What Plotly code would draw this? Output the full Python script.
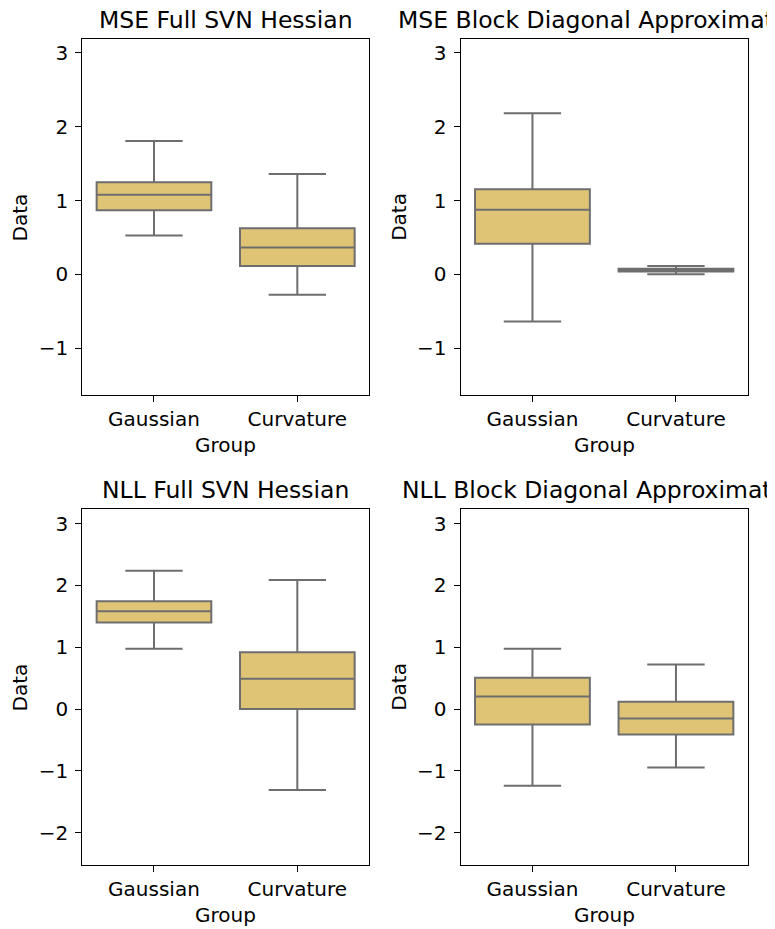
import plotly.graph_objects as go

groups = ["Gaussian", "Curvature"]

titles = ["MSE Full SVN Hessian", "MSE Block Diagonal Approximation",
          "NLL Full SVN Hessian", "NLL Block Diagonal Approximation"]

# box statistics per panel: [Gaussian, Curvature]
mse_full_lower = [0.527, -0.275]
mse_full_q1 = [0.869, 0.113]
mse_full_median = [1.077, 0.365]
mse_full_q3 = [1.248, 0.626]
mse_full_upper = [1.806, 1.360]

mse_block_lower = [-0.635, 0.004]
mse_block_q1 = [0.414, 0.040]
mse_block_median = [0.874, 0.060]
mse_block_q3 = [1.153, 0.078]
mse_block_upper = [2.180, 0.116]

nll_full_lower = [0.975, -1.309]
nll_full_q1 = [1.400, 0.000]
nll_full_median = [1.583, 0.490]
nll_full_q3 = [1.745, 0.921]
nll_full_upper = [2.235, 2.089]

nll_block_lower = [-1.239, -0.942]
nll_block_q1 = [-0.248, -0.409]
nll_block_median = [0.205, -0.151]
nll_block_q3 = [0.506, 0.118]
nll_block_upper = [0.975, 0.722]

panels = [
    (mse_full_lower, mse_full_q1, mse_full_median, mse_full_q3, mse_full_upper),
    (mse_block_lower, mse_block_q1, mse_block_median, mse_block_q3, mse_block_upper),
    (nll_full_lower, nll_full_q1, nll_full_median, nll_full_q3, nll_full_upper),
    (nll_block_lower, nll_block_q1, nll_block_median, nll_block_q3, nll_block_upper),
]

yranges = [[-1.63, 3.18], [-1.63, 3.18], [-2.52, 3.23], [-2.52, 3.23]]

OFF = 8  # default page body margin
W, H = 775 - OFF, 929 - OFF
FILL = "#E0C476"
EDGE = "#6E6E6E"
FONT = "DejaVu Sans"

# axes pixel boxes on the page (left, right, top, bottom)
boxes_px = [(82.3, 369.0, 39.3, 395.0), (460.7, 747.7, 39.3, 395.0),
            (82.3, 369.0, 509.3, 865.0), (460.7, 747.7, 509.3, 865.0)]

fig = go.Figure()
layout = dict(
    width=W, height=H, margin=dict(l=0, r=0, t=0, b=0),
    plot_bgcolor="white", paper_bgcolor="white", showlegend=False,
    font=dict(family=FONT, size=20, color="black"),
)
annotations = []
for i, (lo, q1, med, q3, hi) in enumerate(panels):
    n = i + 1
    xa = "x" if n == 1 else f"x{n}"
    ya = "y" if n == 1 else f"y{n}"
    fig.add_trace(go.Box(
        x=groups, lowerfence=lo, q1=q1, median=med, q3=q3, upperfence=hi,
        xaxis=xa, yaxis=ya, width=0.8, whiskerwidth=0.5,
        fillcolor=FILL, line=dict(color=EDGE, width=2),
        boxpoints=False, hoverinfo="skip",
    ))
    l, r, t, b = [v - OFF for v in boxes_px[i]]
    xd = [l / W, r / W]
    yd = [1 - b / H, 1 - t / H]
    axcommon = dict(showline=True, linecolor="black", linewidth=1.2, mirror=True,
                    ticks="outside", ticklen=6, tickwidth=1.2, tickcolor="black",
                    showgrid=False, zeroline=False,
                    tickfont=dict(family=FONT, size=20, color="black"))
    layout["xaxis" if n == 1 else f"xaxis{n}"] = dict(
        domain=xd, anchor=ya, type="category", range=[-0.5, 1.5], **axcommon)
    layout["yaxis" if n == 1 else f"yaxis{n}"] = dict(
        domain=yd, anchor=xa, range=yranges[i], dtick=1, tick0=0,
        ticklabelstandoff=3, **axcommon)
    cx = (l + r) / 2 / W
    annotations.append(dict(text=titles[i], xref="paper", yref="paper",
                            x=cx, y=1 - t / H, yshift=3, xanchor="center", yanchor="bottom",
                            showarrow=False, font=dict(family=FONT, size=23.5, color="black")))
    annotations.append(dict(text="Group", xref="paper", yref="paper",
                            x=cx, y=1 - b / H, yshift=-36, xanchor="center", yanchor="top",
                            showarrow=False, font=dict(family=FONT, size=20, color="black")))
    annotations.append(dict(text="Data", xref="paper", yref="paper",
                            x=(l - 62) / W, y=1 - (t + b) / 2 / H, textangle=-90,
                            xanchor="center", yanchor="middle",
                            showarrow=False, font=dict(family=FONT, size=20, color="black")))
layout["annotations"] = annotations
fig.update_layout(**layout)
fig.write_html("out.html")
